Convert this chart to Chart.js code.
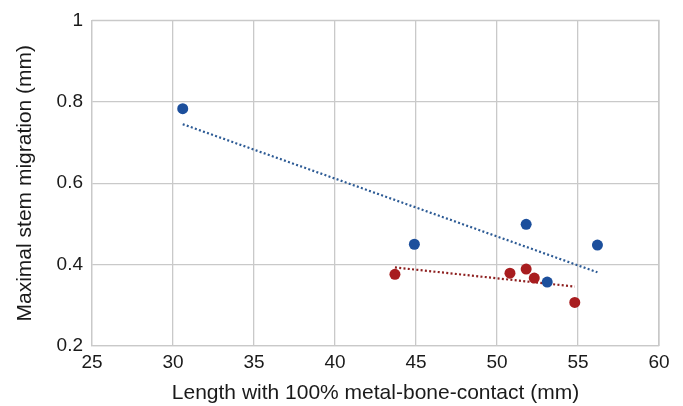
<!DOCTYPE html>
<html>
<head>
<meta charset="utf-8">
<script src="https://cdn.jsdelivr.net/npm/chart.js@4/dist/chart.umd.min.js"></script>
<style>
html,body{margin:0;padding:0;background:#fff;}
#wrap{width:683px;height:406px;}
</style>
</head>
<body>
<div id="wrap"><canvas id="c" width="683" height="406"></canvas></div>
<script>
// Data
const blueX = [30.6, 44.9, 51.8, 53.1, 56.2];
const blueY = [0.783, 0.45, 0.499, 0.357, 0.448];
const redX = [43.7, 50.8, 51.8, 52.3, 54.8];
const redY = [0.376, 0.379, 0.389, 0.367, 0.307];
const blueTrendX = [30.6, 56.2];
const blueTrendY = [0.745, 0.381];
const redTrendX = [43.7, 54.8];
const redTrendY = [0.393, 0.346];
const xTicks = [25, 30, 35, 40, 45, 50, 55, 60];
const yTicks = [0.2, 0.4, 0.6, 0.8, 1];
const xTitle = 'Length with 100% metal-bone-contact (mm)';
const yTitle = 'Maximal stem migration (mm)';

const pts = (xs, ys) => xs.map((x, i) => ({x: x, y: ys[i]}));
const BLUE = '#1c4f9c';
const RED = '#a81d1f';
const FONT = 'Liberation Sans';

new Chart(document.getElementById('c'), {
  type: 'scatter',
  data: {
    datasets: [
      {label: 'blue trend', data: pts(blueTrendX, blueTrendY), showLine: true, pointRadius: 0,
       borderColor: '#2d5b95', borderWidth: 2.2, borderDash: [2, 2.3], fill: false, order: 2},
      {label: 'red trend', data: pts(redTrendX, redTrendY), showLine: true, pointRadius: 0,
       borderColor: '#8e2020', borderWidth: 2.2, borderDash: [2, 2.3], fill: false, order: 2},
      {label: 'blue', data: pts(blueX, blueY), pointRadius: 5.5, pointBackgroundColor: BLUE,
       pointBorderColor: BLUE, pointBorderWidth: 0, order: 1},
      {label: 'red', data: pts(redX, redY), pointRadius: 5.5, pointBackgroundColor: RED,
       pointBorderColor: RED, pointBorderWidth: 0, order: 1}
    ]
  },
  options: {
    responsive: false,
    animation: false,
    devicePixelRatio: 1,
    layout: {padding: {top: 16, right: 24, left: 0, bottom: 0}},
    plugins: {legend: {display: false}, tooltip: {enabled: false}},
    scales: {
      x: {
        type: 'linear', min: xTicks[0], max: xTicks[xTicks.length - 1],
        afterBuildTicks: s => { s.ticks = xTicks.map(v => ({value: v})); },
        afterFit: s => { s.height = 60; },
        grid: {color: '#c9c9c9', lineWidth: 1.3, drawTicks: false},
        border: {color: '#c9c9c9', width: 1.3},
        ticks: {color: '#1a1a1a', font: {family: FONT, size: 19}, padding: 5},
        title: {display: true, text: xTitle, color: '#1a1a1a',
                font: {family: FONT, size: 21}, padding: {top: 0, bottom: 0}}
      },
      y: {
        type: 'linear', min: yTicks[0], max: yTicks[yTicks.length - 1],
        afterBuildTicks: s => { s.ticks = yTicks.map(v => ({value: v})); },
        afterFit: s => { s.width = 92; },
        grid: {color: '#c9c9c9', lineWidth: 1.3, drawTicks: false},
        border: {color: '#c9c9c9', width: 1.3},
        ticks: {color: '#1a1a1a', font: {family: FONT, size: 19}, padding: 9,
                callback: v => String(Number(v.toFixed(1)))},
        title: {display: true, text: yTitle, color: '#1a1a1a',
                font: {family: FONT, size: 21}, padding: {top: 13, bottom: 0}}
      }
    }
  },
  plugins: [{
    id: 'box',
    afterDraw(chart) {
      const a = chart.chartArea, ctx = chart.ctx;
      ctx.save();
      ctx.strokeStyle = '#c9c9c9';
      ctx.lineWidth = 1.3;
      ctx.beginPath();
      ctx.moveTo(a.left, a.top); ctx.lineTo(a.right, a.top); ctx.lineTo(a.right, a.bottom);
      ctx.stroke();
      ctx.restore();
    }
  }]
});
</script>
</body>
</html>
